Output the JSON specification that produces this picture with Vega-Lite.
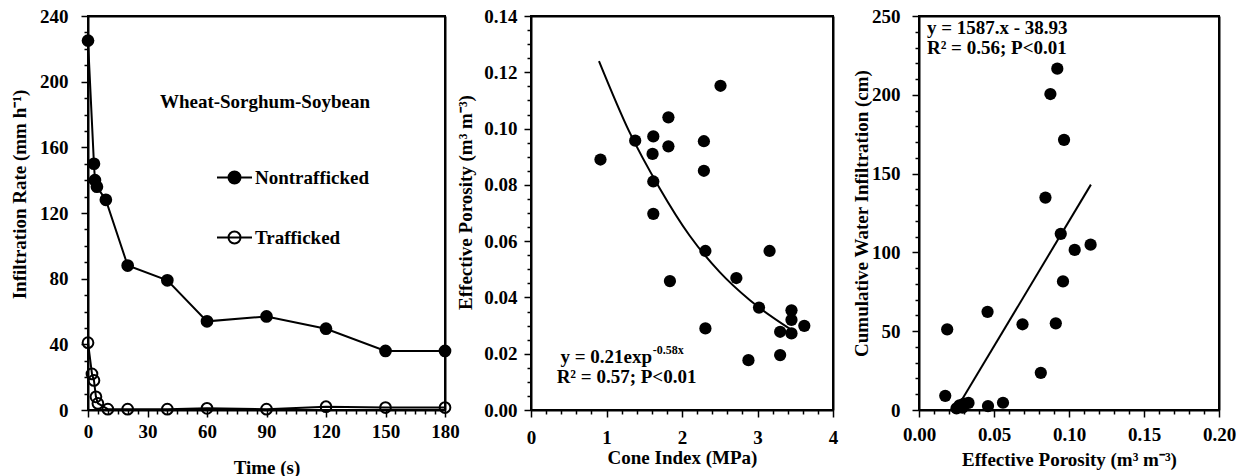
{
  "$schema": "https://vega.github.io/schema/vega-lite/v6.json",
  "autosize": {"type": "pad"},
  "padding": {"left": 9, "top": 6, "right": 0, "bottom": 0},
  "background": "white",
  "spacing": 86,
  "bounds": "flush",
  "config": {
    "view": {"stroke": "black", "strokeWidth": 2},
    "axis": {
      "grid": false,
      "labelFont": "Liberation Serif", "labelFontWeight": "bold", "labelFontSize": 19, "labelColor": "black",
      "titleFont": "Liberation Serif", "titleFontWeight": "bold", "titleFontSize": 19, "titleColor": "black",
      "domainColor": "black", "domainWidth": 2, "tickColor": "black", "tickWidth": 1.5,
      "labelOverlap": false, "labelFlush": false, "labelBound": false
    },
    "text": {"font": "Liberation Serif", "fontWeight": "bold", "color": "black"}
  },
  "datasets": {
    "rates": [
      {"time": 0, "rate": 225, "series": "Nontrafficked"},
      {"time": 3, "rate": 150, "series": "Nontrafficked"},
      {"time": 3.5, "rate": 140, "series": "Nontrafficked"},
      {"time": 4.5, "rate": 136, "series": "Nontrafficked"},
      {"time": 9, "rate": 128, "series": "Nontrafficked"},
      {"time": 20, "rate": 88, "series": "Nontrafficked"},
      {"time": 40, "rate": 79, "series": "Nontrafficked"},
      {"time": 60, "rate": 54, "series": "Nontrafficked"},
      {"time": 90, "rate": 57, "series": "Nontrafficked"},
      {"time": 120, "rate": 49.5, "series": "Nontrafficked"},
      {"time": 150, "rate": 36, "series": "Nontrafficked"},
      {"time": 180, "rate": 36, "series": "Nontrafficked"},
      {"time": 0, "rate": 41, "series": "Trafficked"},
      {"time": 2, "rate": 22, "series": "Trafficked"},
      {"time": 3, "rate": 18, "series": "Trafficked"},
      {"time": 4, "rate": 8, "series": "Trafficked"},
      {"time": 5, "rate": 4, "series": "Trafficked"},
      {"time": 10, "rate": 0.5, "series": "Trafficked"},
      {"time": 20, "rate": 0.5, "series": "Trafficked"},
      {"time": 40, "rate": 0.5, "series": "Trafficked"},
      {"time": 60, "rate": 1, "series": "Trafficked"},
      {"time": 90, "rate": 0.5, "series": "Trafficked"},
      {"time": 120, "rate": 2, "series": "Trafficked"},
      {"time": 150, "rate": 1.5, "series": "Trafficked"},
      {"time": 180, "rate": 1.5, "series": "Trafficked"}
    ],
    "porosity": [
      {"ci": 0.92, "ep": 0.089},
      {"ci": 1.38, "ep": 0.0957},
      {"ci": 1.62, "ep": 0.0972},
      {"ci": 1.61, "ep": 0.091},
      {"ci": 1.82, "ep": 0.104},
      {"ci": 1.82, "ep": 0.0937},
      {"ci": 2.51, "ep": 0.1152},
      {"ci": 2.29, "ep": 0.0955},
      {"ci": 2.29, "ep": 0.085},
      {"ci": 1.62, "ep": 0.0812},
      {"ci": 1.62, "ep": 0.0697},
      {"ci": 2.31, "ep": 0.0565},
      {"ci": 3.16, "ep": 0.0565},
      {"ci": 1.84, "ep": 0.0458},
      {"ci": 2.72, "ep": 0.0469},
      {"ci": 3.02, "ep": 0.0364},
      {"ci": 3.45, "ep": 0.0354},
      {"ci": 3.45, "ep": 0.032},
      {"ci": 3.62, "ep": 0.0299},
      {"ci": 3.3, "ep": 0.0278},
      {"ci": 3.45, "ep": 0.0272},
      {"ci": 2.31, "ep": 0.029},
      {"ci": 2.88, "ep": 0.0177},
      {"ci": 3.3, "ep": 0.0195}
    ],
    "infiltration": [
      {"porosity": 0.0922, "infil": 216.6},
      {"porosity": 0.0876, "infil": 200.5},
      {"porosity": 0.0967, "infil": 171.4},
      {"porosity": 0.0843, "infil": 134.8},
      {"porosity": 0.0945, "infil": 111.8},
      {"porosity": 0.1038, "infil": 101.6},
      {"porosity": 0.1144, "infil": 104.9},
      {"porosity": 0.096, "infil": 81.6},
      {"porosity": 0.0457, "infil": 62.3},
      {"porosity": 0.0188, "infil": 51.2},
      {"porosity": 0.069, "infil": 54.4},
      {"porosity": 0.0912, "infil": 55},
      {"porosity": 0.0812, "infil": 23.6},
      {"porosity": 0.0175, "infil": 9},
      {"porosity": 0.027, "infil": 3},
      {"porosity": 0.03, "infil": 4},
      {"porosity": 0.033, "infil": 4.5},
      {"porosity": 0.025, "infil": 1},
      {"porosity": 0.029, "infil": 1.5},
      {"porosity": 0.046, "infil": 2.5},
      {"porosity": 0.056, "infil": 4.6}
    ]
  },
  "hconcat": [
    {
      "width": 357, "height": 394,
      "resolve": {"axis": {"x": "independent", "y": "independent"}},
      "layer": [
        {"data": {"name": "rates"},
         "mark": {"type": "line", "color": "black", "strokeWidth": 2},
         "encoding": {
           "x": {"field": "time", "type": "quantitative", "scale": {"domain": [0, 180], "nice": false},
             "axis": {"title": "Time (s)",
               "values": [0,5,10,15,20,25,30,35,40,45,50,55,60,65,70,75,80,85,90,95,100,105,110,115,120,125,130,135,140,145,150,155,160,165,170,175,180],
               "labelExpr": "datum.value % 30 === 0 ? format(datum.value, 'd') : ''",
               "tickSize": {"condition": {"test": "datum.value % 30 === 0", "value": 7}, "value": 4},
               "labelPadding": 5, "titlePadding": 17}},
           "y": {"field": "rate", "type": "quantitative", "scale": {"domain": [0, 240], "nice": false},
             "axis": {"title": "Infiltration Rate (mm h⁻¹)",
               "values": [0,10,20,30,40,50,60,70,80,90,100,110,120,130,140,150,160,170,180,190,200,210,220,230,240],
               "labelExpr": "datum.value % 40 === 0 ? format(datum.value, 'd') : ''",
               "tickSize": {"condition": {"test": "datum.value % 40 === 0", "value": 7}, "value": 4},
               "labelPadding": 13, "titlePadding": 10, "titleY": 178}},
           "detail": {"field": "series"}}},
        {"data": {"name": "rates"},
         "mark": {"type": "point", "filled": true, "size": 115, "stroke": "black", "strokeWidth": 2, "opacity": 1},
         "encoding": {
           "x": {"field": "time", "type": "quantitative", "scale": {"domain": [0, 180], "nice": false}, "axis": null},
           "y": {"field": "rate", "type": "quantitative", "scale": {"domain": [0, 240], "nice": false}, "axis": null},
           "fill": {"field": "series", "type": "nominal",
             "scale": {"domain": ["Nontrafficked", "Trafficked"], "range": ["black", "transparent"]},
             "legend": {"title": null, "orient": "none", "legendX": 128, "legendY": 143,
               "padding": 0, "rowPadding": 31,
               "symbolType": "M-1,0L1,0M0.343,0A0.343,0.343,0,1,1,-0.343,0A0.343,0.343,0,1,1,0.343,0",
               "symbolSize": 1225, "symbolStrokeColor": "black", "symbolStrokeWidth": 2,
               "labelFont": "Liberation Serif", "labelFontWeight": "bold", "labelFontSize": 19,
               "labelColor": "black", "labelOffset": 2, "labelLimit": 300}}}},
        {"data": {"values": [{"note": "Wheat-Sorghum-Soybean"}]},
         "mark": {"type": "text", "fontSize": 19, "align": "center", "baseline": "middle"},
         "encoding": {
           "x": {"datum": 89.2, "type": "quantitative", "scale": {"domain": [0, 180], "nice": false}, "axis": null},
           "y": {"datum": 187.6, "type": "quantitative", "scale": {"domain": [0, 240], "nice": false}, "axis": null},
           "text": {"field": "note"}}},
        {"data": {"name": "rates"},
         "mark": {"type": "point", "opacity": 0},
         "encoding": {
           "x": {"field": "time", "type": "quantitative", "scale": {"domain": [0, 180], "nice": false},
             "axis": {"orient": "top", "labels": false, "ticks": false, "title": null}},
           "y": {"field": "rate", "type": "quantitative", "scale": {"domain": [0, 240], "nice": false},
             "axis": {"orient": "right", "labels": false, "ticks": false, "title": null}}}}
      ]
    },
    {
      "width": 302, "height": 394,
      "resolve": {"axis": {"x": "independent", "y": "independent"}},
      "layer": [
        {"data": {"values": [
          {"ci": 0.9, "ep": 0.124},
          {"ci": 1.3, "ep": 0.099},
          {"ci": 1.7, "ep": 0.079},
          {"ci": 2.1, "ep": 0.062},
          {"ci": 2.5, "ep": 0.049},
          {"ci": 2.9, "ep": 0.039},
          {"ci": 3.45, "ep": 0.0285}
        ]},
         "mark": {"type": "line", "color": "black", "strokeWidth": 2, "interpolate": "monotone"},
         "encoding": {
           "x": {"field": "ci", "type": "quantitative", "scale": {"domain": [0, 4], "nice": false},
             "axis": {"title": "Cone Index (MPa)",
               "values": [0,0.2,0.4,0.6,0.8,1,1.2,1.4,1.6,1.8,2,2.2,2.4,2.6,2.8,3,3.2,3.4,3.6,3.8,4],
               "labelExpr": "abs(datum.value - round(datum.value)) < 0.001 ? format(datum.value, '.0f') : ''",
               "tickSize": {"condition": {"test": "abs(datum.value - round(datum.value)) < 0.001", "value": 7}, "value": 4},
               "labelPadding": 11, "titlePadding": 1}},
           "y": {"field": "ep", "type": "quantitative", "scale": {"domain": [0, 0.14], "nice": false},
             "axis": {"title": "Effective Porosity (m³ m⁻³)",
               "values": [0,0.005,0.01,0.015,0.02,0.025,0.03,0.035,0.04,0.045,0.05,0.055,0.06,0.065,0.07,0.075,0.08,0.085,0.09,0.095,0.1,0.105,0.11,0.115,0.12,0.125,0.13,0.135,0.14],
               "labelExpr": "abs(datum.value*50 - round(datum.value*50)) < 0.001 ? format(datum.value, '.2f') : ''",
               "tickSize": {"condition": {"test": "abs(datum.value*50 - round(datum.value*50)) < 0.001", "value": 7}, "value": 4},
               "labelPadding": 7, "titlePadding": 8, "titleY": 186}}}},
        {"data": {"name": "porosity"},
         "mark": {"type": "point", "filled": true, "size": 150, "color": "black", "opacity": 1},
         "encoding": {
           "x": {"field": "ci", "type": "quantitative", "scale": {"domain": [0, 4], "nice": false}, "axis": null},
           "y": {"field": "ep", "type": "quantitative", "scale": {"domain": [0, 0.14], "nice": false}, "axis": null}}},
        {"data": {"values": [{"note": "y = 0.21exp"}]},
         "mark": {"type": "text", "fontSize": 19, "align": "right", "baseline": "middle"},
         "encoding": {
           "x": {"datum": 1.603, "type": "quantitative", "scale": {"domain": [0, 4], "nice": false}, "axis": null},
           "y": {"datum": 0.0188, "type": "quantitative", "scale": {"domain": [0, 0.14], "nice": false}, "axis": null},
           "text": {"field": "note"}}},
        {"data": {"values": [{"note": "-0.58x"}]},
         "mark": {"type": "text", "fontSize": 12, "align": "left", "baseline": "middle"},
         "encoding": {
           "x": {"datum": 1.613, "type": "quantitative", "scale": {"domain": [0, 4], "nice": false}, "axis": null},
           "y": {"datum": 0.0212, "type": "quantitative", "scale": {"domain": [0, 0.14], "nice": false}, "axis": null},
           "text": {"field": "note"}}},
        {"data": {"values": [{"note": "R² = 0.57; P<0.01"}]},
         "mark": {"type": "text", "fontSize": 19, "align": "center", "baseline": "middle"},
         "encoding": {
           "x": {"datum": 1.265, "type": "quantitative", "scale": {"domain": [0, 4], "nice": false}, "axis": null},
           "y": {"datum": 0.0117, "type": "quantitative", "scale": {"domain": [0, 0.14], "nice": false}, "axis": null},
           "text": {"field": "note"}}},
        {"data": {"name": "porosity"},
         "mark": {"type": "point", "opacity": 0},
         "encoding": {
           "x": {"field": "ci", "type": "quantitative", "scale": {"domain": [0, 4], "nice": false},
             "axis": {"orient": "top", "labels": false, "ticks": false, "title": null}},
           "y": {"field": "ep", "type": "quantitative", "scale": {"domain": [0, 0.14], "nice": false},
             "axis": {"orient": "right", "labels": false, "ticks": false, "title": null}}}}
      ]
    },
    {
      "width": 300, "height": 394,
      "resolve": {"axis": {"x": "independent", "y": "independent"}},
      "layer": [
        {"data": {"values": [
          {"porosity": 0.028, "infil": 5.5},
          {"porosity": 0.1146, "infil": 143}
        ]},
         "mark": {"type": "line", "color": "black", "strokeWidth": 2},
         "encoding": {
           "x": {"field": "porosity", "type": "quantitative", "scale": {"domain": [0, 0.2], "nice": false},
             "axis": {"title": "Effective Porosity (m³ m⁻³)",
               "values": [0,0.01,0.02,0.03,0.04,0.05,0.06,0.07,0.08,0.09,0.1,0.11,0.12,0.13,0.14,0.15,0.16,0.17,0.18,0.19,0.2],
               "labelExpr": "abs(datum.value*20 - round(datum.value*20)) < 0.001 ? format(datum.value, '.2f') : ''",
               "tickSize": {"condition": {"test": "abs(datum.value*20 - round(datum.value*20)) < 0.001", "value": 7}, "value": 4},
               "labelPadding": 8, "titlePadding": 6}},
           "y": {"field": "infil", "type": "quantitative", "scale": {"domain": [0, 250], "nice": false},
             "axis": {"title": "Cumulative Water Infiltration (cm)",
               "values": [0,10,20,30,40,50,60,70,80,90,100,110,120,130,140,150,160,170,180,190,200,210,220,230,240,250],
               "labelExpr": "datum.value % 50 === 0 ? format(datum.value, 'd') : ''",
               "tickSize": {"condition": {"test": "datum.value % 50 === 0", "value": 7}, "value": 4},
               "labelPadding": 12, "titlePadding": 0}}}},
        {"data": {"name": "infiltration"},
         "mark": {"type": "point", "filled": true, "size": 150, "color": "black", "opacity": 1},
         "encoding": {
           "x": {"field": "porosity", "type": "quantitative", "scale": {"domain": [0, 0.2], "nice": false}, "axis": null},
           "y": {"field": "infil", "type": "quantitative", "scale": {"domain": [0, 250], "nice": false}, "axis": null}}},
        {"data": {"values": [{"note": "y = 1587.x - 38.93"}]},
         "mark": {"type": "text", "fontSize": 19, "align": "left", "baseline": "middle"},
         "encoding": {
           "x": {"datum": 0.0053, "type": "quantitative", "scale": {"domain": [0, 0.2], "nice": false}, "axis": null},
           "y": {"datum": 242.4, "type": "quantitative", "scale": {"domain": [0, 250], "nice": false}, "axis": null},
           "text": {"field": "note"}}},
        {"data": {"values": [{"note": "R² = 0.56; P<0.01"}]},
         "mark": {"type": "text", "fontSize": 19, "align": "left", "baseline": "middle"},
         "encoding": {
           "x": {"datum": 0.0053, "type": "quantitative", "scale": {"domain": [0, 0.2], "nice": false}, "axis": null},
           "y": {"datum": 230.0, "type": "quantitative", "scale": {"domain": [0, 250], "nice": false}, "axis": null},
           "text": {"field": "note"}}},
        {"data": {"name": "infiltration"},
         "mark": {"type": "point", "opacity": 0},
         "encoding": {
           "x": {"field": "porosity", "type": "quantitative", "scale": {"domain": [0, 0.2], "nice": false},
             "axis": {"orient": "top", "labels": false, "ticks": false, "title": null}},
           "y": {"field": "infil", "type": "quantitative", "scale": {"domain": [0, 250], "nice": false},
             "axis": {"orient": "right", "labels": false, "ticks": false, "title": null}}}}
      ]
    }
  ]
}
